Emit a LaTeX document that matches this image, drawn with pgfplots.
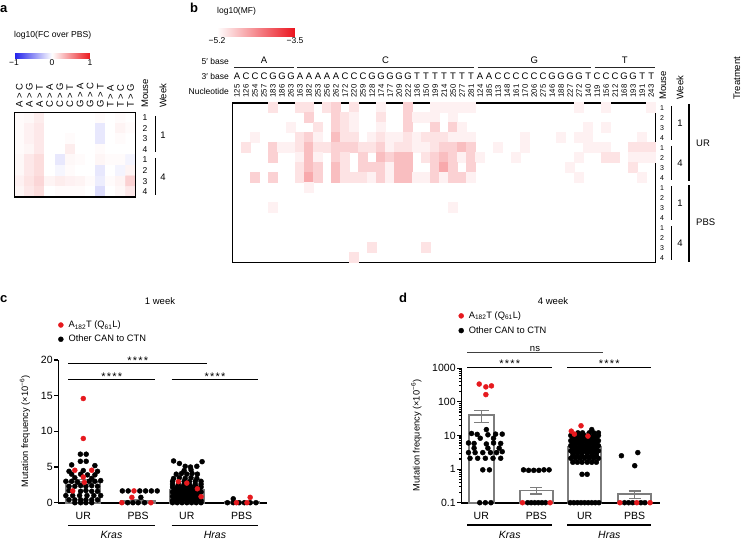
\documentclass[border=0pt]{standalone}
\usepackage{fontspec}
\setmainfont{Liberation Sans}
\usepackage{pgfplots}
\pgfplotsset{compat=1.18}
\usepgfplotslibrary{colormaps}
\usetikzlibrary{calc}
\definecolor{myred}{RGB}{230,25,30}
\definecolor{bargray}{RGB}{125,125,125}
\newcommand\fs[1]{\fontsize{#1}{#1}\selectfont}
\pgfplotsset{/pgf/number format/assume math mode=true}
\pgfplotsset{
  dotplot/.style={only marks, mark=*, mark size=2.5pt, forget plot},
  barplot/.style={ybar, bar shift=0pt, draw=bargray, fill=white, line width=1.8pt, forget plot,
    error bars/y dir=both, error bars/y explicit,
    error bars/error bar style={line width=1.5pt, color=bargray},
    error bars/error mark options={rotate=90, mark size=6pt, line width=1.5pt, color=bargray}},
  legimg/.style={legend image code/.code={\path (-3pt,0pt) (7pt,0pt); \draw[##1] plot coordinates {(0pt,0pt)};}},
}
\begin{document}
\begin{tikzpicture}
\useasboundingbox (0pt,0pt) rectangle (746pt,-540pt);

%% ---------------- panel a heatmap ----------------
\begin{axis}[at={(14.3pt,-112.3pt)}, anchor=north west, scale only axis, width=121.4pt, height=84.7pt,
  xmin=-0.5, xmax=11.5, ymin=-0.5, ymax=7.5, y dir=reverse, ticks=none, axis on top,
  axis line style={line width=1.2pt},
  colormap={bwr}{rgb255=(30,30,235) rgb255=(255,255,255) rgb255=(235,25,30)},
  point meta min=-1, point meta max=1,
  colorbar horizontal,
  colorbar style={y dir=normal, at={($(parent axis.north west)+(-0.3pt,67.3pt)$)}, anchor=north west,
    scale only axis, width=76pt, height=5pt, axis line style={draw=none},
    xtick={-1,0,1}, xticklabels={−1,0,1}, xtick style={draw=none},
    xticklabel style={font=\fs{8.5}, inner sep=1pt}}]
\addplot[matrix plot*, mesh/cols=12, point meta=explicit] table[row sep=\\, meta=z] {
x y z\\
0 0 0.02\\1 0 0.03\\2 0 0.08\\3 0 0\\4 0 0\\5 0 0\\6 0 0\\7 0 0\\8 0 0.02\\9 0 0\\10 0 0.02\\11 0 0\\
0 1 0.02\\1 1 0.06\\2 1 0.10\\3 1 0\\4 1 0\\5 1 0\\6 1 0\\7 1 0\\8 1 -0.10\\9 1 0\\10 1 0.05\\11 1 0.02\\
0 2 0.02\\1 2 0.06\\2 2 0.10\\3 2 0\\4 2 0\\5 2 0.02\\6 2 0\\7 2 0\\8 2 -0.10\\9 2 0\\10 2 0.02\\11 2 0\\
0 3 0.02\\1 3 0.04\\2 3 0.10\\3 3 0\\4 3 0\\5 3 0.08\\6 3 0\\7 3 0\\8 3 0.02\\9 3 0\\10 3 0\\11 3 0\\
0 4 0.03\\1 4 0.10\\2 4 0.15\\3 4 0\\4 4 -0.10\\5 4 0.03\\6 4 0.02\\7 4 0\\8 4 0.04\\9 4 0.02\\10 4 0.02\\11 4 -0.05\\
0 5 0.03\\1 5 0.10\\2 5 0.15\\3 5 0\\4 5 -0.04\\5 5 0.02\\6 5 0\\7 5 0\\8 5 -0.10\\9 5 0\\10 5 -0.05\\11 5 0.05\\
0 6 0.06\\1 6 0.12\\2 6 0.18\\3 6 0.05\\4 6 0.08\\5 6 0.06\\6 6 0.05\\7 6 0.02\\8 6 -0.08\\9 6 0.02\\10 6 0.05\\11 6 0.20\\
0 7 0.04\\1 7 0.10\\2 7 0.15\\3 7 0\\4 7 0.02\\5 7 0.02\\6 7 0.02\\7 7 0\\8 7 -0.15\\9 7 0\\10 7 0.03\\11 7 0.10\\
};
\end{axis}

%% ---------------- panel b heatmap ----------------
\begin{axis}[at={(232.5pt,-103pt)}, anchor=north west, scale only axis, width=423.2pt, height=159.7pt,
  xmin=-0.5, xmax=46.5, ymin=-0.5, ymax=15.5, y dir=reverse, ticks=none, axis on top,
  axis line style={line width=1.2pt},
  colormap={wr}{rgb255=(255,255,255) rgb255=(235,20,30)},
  point meta min=-5.2, point meta max=-3.5,
  colorbar horizontal,
  colorbar style={y dir=normal, at={($(parent axis.north west)+(-15.5pt,83pt)$)}, anchor=north west,
    scale only axis, width=78pt, height=8pt, axis line style={draw=none},
    xtick={-5.2,-3.5}, xticklabels={−5.2,−3.5}, xtick style={draw=none},
    xticklabel style={font=\fs{8.5}, inner sep=1pt}}]
\addplot[scatter, only marks, mark=square*, mark size=5pt, point meta=explicit,
  scatter/use mapped color={draw=mapped color, fill=mapped color},
  mark options={xscale=0.9, line width=0pt}] table[row sep=\\, x=c, y=r, meta=v] {
c r v\\
4 0 -5.00\\7 0 -5.00\\8 0 -5.00\\10 0 -5.00\\11 0 -4.87\\13 0 -5.00\\16 0 -5.10\\19 0 -4.87\\22 0 -5.10\\23 0 -5.10\\24 0 -5.10\\25 0 -5.10\\26 0 -5.10\\38 0 -5.10\\41 0 -5.10\\46 0 -5.10\\
8 1 -4.87\\11 1 -4.87\\12 1 -5.00\\13 1 -5.10\\16 1 -5.00\\19 1 -4.87\\20 1 -5.10\\21 1 -5.10\\22 1 -5.10\\24 1 -5.10\\
6 2 -5.10\\9 2 -5.00\\11 2 -4.87\\12 2 -5.00\\13 2 -5.10\\16 2 -5.10\\19 2 -4.87\\22 2 -4.87\\24 2 -4.87\\25 2 -5.10\\39 2 -5.10\\41 2 -5.10\\
2 3 -5.10\\7 3 -5.00\\8 3 -4.87\\9 3 -5.10\\11 3 -4.73\\12 3 -5.00\\13 3 -5.00\\15 3 -5.10\\16 3 -5.00\\17 3 -5.10\\18 3 -5.10\\19 3 -5.00\\20 3 -5.10\\21 3 -5.00\\22 3 -5.00\\23 3 -5.00\\24 3 -5.10\\25 3 -5.10\\26 3 -5.10\\32 3 -5.10\\36 3 -5.10\\38 3 -5.10\\39 3 -5.10\\45 3 -5.10\\
1 4 -5.00\\4 4 -4.87\\5 4 -5.10\\6 4 -5.10\\7 4 -5.00\\8 4 -4.73\\9 4 -5.00\\10 4 -5.00\\11 4 -4.87\\12 4 -4.87\\13 4 -4.87\\14 4 -5.00\\15 4 -5.00\\16 4 -4.87\\17 4 -5.10\\18 4 -5.00\\19 4 -5.00\\20 4 -5.10\\21 4 -5.10\\22 4 -5.00\\23 4 -4.87\\24 4 -4.87\\25 4 -4.73\\26 4 -4.87\\29 4 -5.10\\32 4 -5.10\\39 4 -5.10\\40 4 -5.10\\41 4 -5.10\\44 4 -5.00\\45 4 -5.00\\46 4 -5.00\\
4 5 -4.87\\7 5 -5.10\\8 5 -4.73\\9 5 -5.10\\11 5 -4.87\\12 5 -5.00\\14 5 -4.87\\16 5 -4.73\\17 5 -4.87\\18 5 -4.73\\19 5 -4.73\\21 5 -5.00\\22 5 -4.87\\23 5 -4.73\\24 5 -4.87\\25 5 -5.10\\26 5 -4.87\\27 5 -5.10\\31 5 -5.10\\38 5 -5.10\\41 5 -5.00\\42 5 -5.00\\44 5 -5.10\\45 5 -5.10\\46 5 -5.10\\
7 6 -5.00\\8 6 -4.73\\9 6 -4.87\\11 6 -4.73\\12 6 -5.00\\14 6 -4.87\\15 6 -4.87\\16 6 -4.87\\17 6 -5.10\\18 6 -4.73\\19 6 -4.73\\22 6 -4.87\\23 6 -4.58\\24 6 -4.87\\26 6 -4.87\\37 6 -5.10\\44 6 -5.00\\
2 7 -4.87\\4 7 -4.87\\7 7 -5.00\\8 7 -4.58\\9 7 -4.87\\11 7 -4.73\\12 7 -5.00\\13 7 -5.00\\14 7 -5.00\\15 7 -5.10\\16 7 -4.87\\17 7 -5.10\\18 7 -4.73\\19 7 -4.73\\20 7 -5.10\\21 7 -5.10\\22 7 -4.87\\23 7 -5.10\\24 7 -4.87\\25 7 -4.87\\26 7 -5.10\\38 7 -5.10\\45 7 -5.10\\
8 8 -5.10\\
4 10 -5.10\\24 10 -5.10\\
15 14 -5.00\\21 14 -5.00\\
13 15 -5.00\\
};
\end{axis}

%% ---------------- panel c ----------------
\begin{axis}[at={(58.3pt,-360pt)}, anchor=north west, scale only axis, width=208.4pt, height=142.7pt,
  xmin=-0.473, xmax=3.473, ymin=0, ymax=20, clip=false,
  axis x line*=bottom, axis y line*=left,
  x axis line style={line width=2.2pt}, y axis line style={line width=1.3pt},
  ytick={0,5,10,15,20}, tick align=outside, major tick length=4pt,
  ytick style={line width=1.2pt, black},
  xtick={0,1.04,1.96,3}, xticklabels={UR,PBS,UR,PBS}, xtick style={draw=none},
  xticklabel style={anchor=base, yshift=-13pt},
  tick label style={font=\fs{10.5}}, yticklabel style={inner sep=1.5pt},
  ylabel={Mutation frequency (×10\textsuperscript{−6})},
  every axis y label/.style={at={(axis description cs:-0.16,0.5)}, rotate=90, anchor=center, font=\fs{9.3}},
  legimg, legend cell align=left,
  legend style={at={(-0.004,1.279)}, anchor=north west, draw=none, fill=none, inner sep=0pt,
    row sep=5pt, font=\fs{9.3}, nodes={inner sep=0.5pt}}]
\addplot[barplot, bar width=34pt] coordinates {(0,2.9) +- (0,0.35) (1.04,0.25) +- (0,0.1) (1.96,1.75) +- (0,0.15) (3,0.05) +- (0,0.03)};
% Kras UR
\addplot[dotplot, black] table[row sep=\\, x expr=\thisrow{dx}, y=v] {dx v\\
-0.055 6.8\\0.055 6.8\\-0.055 5.8\\0.055 5.8\\-0.22 5.3\\0.22 5.2\\-0.27 4.4\\0 4.5\\0.27 4.4\\-0.22 4.0\\-0.05 4.0\\0.08 3.9\\0.22 3.9\\-0.16 3.5\\0.16 3.4\\
-0.33 3.0\\-0.22 3.0\\-0.11 2.9\\0.11 3.0\\0.22 3.0\\0.33 3.1\\-0.27 2.3\\-0.16 2.3\\-0.05 2.4\\0.05 2.3\\0.16 2.4\\0.27 2.3\\
-0.27 1.7\\-0.05 1.6\\0.05 1.7\\0.16 1.6\\0.27 1.6\\-0.33 1.0\\-0.2 1.0\\-0.07 1.0\\0.07 1.0\\0.2 1.0\\0.33 1.0\\
-0.27 0.4\\-0.16 0.4\\-0.05 0.4\\0.05 0.4\\0.16 0.4\\0.27 0.4\\-0.16 0\\-0.05 0\\0.05 0\\0.16 0\\};
% Kras PBS
\addplot[dotplot, black] table[row sep=\\, x expr=\thisrow{dx}+1.04, y=v] {dx v\\
-0.3 1.65\\-0.19 1.65\\0.03 1.65\\0.14 1.65\\0.25 1.65\\0.36 1.65\\0.05 0.75\\-0.2 0\\-0.1 0\\0 0\\0.12 0\\};
% Hras UR
\addplot[dotplot, black] table[row sep=\\, x expr=\thisrow{dx}+1.96, y=v] {dx v\\
-0.25 5.85\\-0.14 5.5\\-0.03 5.1\\0.07 5.0\\0.19 5.1\\0.29 5.75\\-0.05 4.5\\0.08 4.6\\
-0.2 4.0\\-0.1 4.1\\0 4.0\\0.1 4.1\\0.2 4.0\\-0.25 3.4\\-0.14 3.5\\-0.03 3.4\\0.08 3.5\\0.19 3.4\\
-0.27 3.0\\-0.05 3.0\\0.05 2.95\\0.16 3.0\\0.27 3.0\\-0.27 2.6\\-0.16 2.6\\-0.05 2.6\\0.05 2.55\\0.16 2.6\\0.27 2.6\\
-0.27 2.2\\-0.18 2.2\\-0.09 2.2\\0 2.2\\0.09 2.2\\0.18 2.2\\0.27 2.2\\
-0.23 1.85\\-0.14 1.85\\-0.05 1.85\\0.05 1.85\\0.14 1.85\\0.23 1.85\\
-0.27 1.5\\-0.18 1.5\\-0.09 1.5\\0 1.5\\0.09 1.5\\0.18 1.5\\0.27 1.5\\
-0.23 1.2\\-0.14 1.2\\-0.05 1.2\\0.05 1.2\\0.14 1.2\\0.23 1.2\\
-0.27 0.9\\-0.18 0.9\\-0.09 0.9\\0 0.9\\0.09 0.9\\0.18 0.9\\
-0.23 0.6\\-0.14 0.6\\-0.05 0.6\\0.05 0.6\\0.14 0.6\\0.23 0.6\\
-0.27 0.3\\-0.18 0.3\\-0.09 0.3\\0 0.3\\0.09 0.3\\0.18 0.3\\0.27 0.3\\
-0.27 0\\-0.18 0\\-0.09 0\\0 0\\0.09 0\\0.18 0\\0.27 0\\};
% Hras PBS
\addplot[dotplot, black] table[row sep=\\, x expr=\thisrow{dx}+3, y=v] {dx v\\
-0.27 0\\-0.16 0\\-0.05 0\\0.05 0\\0.16 0\\0.27 0\\-0.16 0.55\\};
% A182T points
\addplot[dotplot, myred] table[row sep=\\, x expr=\thisrow{dx}, y=v] {dx v\\
0 14.6\\0 9.0\\-0.16 4.55\\0.16 4.55\\0 3.6\\0.02 2.85\\-0.2 1.65\\};
\addplot[dotplot, myred] table[row sep=\\, x expr=\thisrow{dx}+1.04, y=v] {dx v\\
-0.08 1.65\\-0.12 0.75\\-0.31 0\\0.24 0\\};
\addplot[dotplot, myred] table[row sep=\\, x expr=\thisrow{dx}+1.96, y=v] {dx v\\
-0.16 2.95\\0 2.75\\0.2 1.95\\0.27 0.85\\};
\addplot[dotplot, myred] table[row sep=\\, x expr=\thisrow{dx}+3, y=v] {dx v\\
0.16 0.75\\-0.1 0\\0.1 0\\};
\addlegendimage{only marks, mark=*, mark size=2.5pt, color=myred}
\addlegendentry{A\textsubscript{182}T (Q\textsubscript{61}L)}
\addlegendimage{only marks, mark=*, mark size=2.5pt, color=black}
\addlegendentry{Other CAN to CTN}
\end{axis}

%% ---------------- panel d ----------------
\begin{axis}[at={(461.3pt,-368.3pt)}, anchor=north west, scale only axis, width=199pt, height=134.4pt,
  xmin=-0.39, xmax=3.5, ymode=log, ymin=0.1, ymax=1000, log origin=infty, clip=false,
  axis x line*=bottom, axis y line*=left,
  x axis line style={line width=2.2pt}, y axis line style={line width=1.3pt},
  ytick={0.1,1,10,100,1000}, yticklabels={0.1,1,10,100,1000},
  minor ytick={0.2,0.3,0.4,0.5,0.6,0.7,0.8,0.9,2,3,4,5,6,7,8,9,20,30,40,50,60,70,80,90,200,300,400,500,600,700,800,900},
  tick align=outside, major tick length=4pt, minor tick length=2pt,
  ytick style={line width=1.1pt, black},
  xtick={0,1.076,2.02,3}, xticklabels={UR,PBS,UR,PBS}, xtick style={draw=none},
  xticklabel style={anchor=base, yshift=-13pt},
  tick label style={font=\fs{10.5}}, yticklabel style={inner sep=1.5pt},
  ylabel={Mutation frequency (×10\textsuperscript{−6})},
  every axis y label/.style={at={(axis description cs:-0.226,0.5)}, rotate=90, anchor=center, font=\fs{9.3}},
  legimg, legend cell align=left,
  legend style={at={(-0.0176,1.426)}, anchor=north west, draw=none, fill=none, inner sep=0pt,
    row sep=5.5pt, font=\fs{9.3}, nodes={inner sep=0.5pt}}]
\addplot[barplot, bar width=25pt, error bars/error mark options={rotate=90, mark size=7.5pt, line width=1.5pt, color=bargray}] coordinates {(0,40) +- (0,16)};
\addplot[barplot, bar width=33pt] coordinates {(1.076,0.23) +- (0,0.05) (2.02,4.6) +- (0,0.4) (3,0.18) +- (0,0.045)};
% Kras UR
\addplot[dotplot, black] table[row sep=\\, x expr=\thisrow{dx}+0.08, y=v] {dx v\\
0.02 15\\-0.27 11.5\\-0.16 10.8\\0.05 10.5\\0.2 11\\0.33 11\\-0.1 8.3\\0.16 8.3\\-0.33 6\\-0.22 5.8\\0.02 5.6\\0.16 6\\0.3 5.8\\
-0.22 4.2\\0.05 4.2\\0.27 4.2\\-0.33 3.1\\-0.2 3.1\\-0.05 3.1\\0.1 3.1\\0.22 3.1\\0.33 3.3\\
-0.3 2.1\\-0.15 2.1\\0 2.1\\0.15 2.1\\0.3 2.1\\-0.05 0.95\\0.08 0.95\\-0.11 0.1\\0 0.1\\0.11 0.1\\};
% Kras PBS
\addplot[dotplot, black] table[row sep=\\, x expr=\thisrow{dx}+1.076, y=v] {dx v\\
-0.25 0.95\\-0.15 0.92\\-0.05 0.92\\0.05 0.92\\0.15 0.95\\0.25 0.95\\-0.17 0.1\\-0.1 0.1\\-0.03 0.1\\0.04 0.1\\0.11 0.1\\0.18 0.1\\};
% Hras UR
\addplot[dotplot, black] table[row sep=\\, x expr=\thisrow{dx}+2.02, y=v] {dx v\\
0.14 15\\-0.13 12\\-0.04 12\\0.09 12\\0.18 12\\0.27 12\\
-0.27 10\\-0.18 10\\-0.09 10\\0 10\\0.09 10\\0.18 10\\0.27 10\\
-0.23 8.5\\-0.14 8.5\\-0.05 8.5\\0.05 8.5\\0.14 8.5\\0.23 8.5\\
-0.27 7\\-0.18 7\\-0.09 7\\0 7\\0.09 7\\0.18 7\\0.27 7\\
-0.23 6\\-0.14 6\\-0.05 6\\0.05 6\\0.14 6\\0.23 6\\
-0.27 5\\-0.18 5\\-0.09 5\\0 5\\0.09 5\\0.18 5\\0.27 5\\
-0.23 4.2\\-0.14 4.2\\-0.05 4.2\\0.05 4.2\\0.14 4.2\\0.23 4.2\\
-0.27 3.5\\-0.18 3.5\\-0.09 3.5\\0 3.5\\0.09 3.5\\0.18 3.5\\0.27 3.5\\
-0.23 3\\-0.14 3\\-0.05 3\\0.05 3\\0.14 3\\0.23 3\\
-0.23 2.5\\-0.14 2.5\\-0.05 2.5\\0.05 2.5\\0.14 2.5\\0.23 2.5\\
-0.27 2.1\\-0.18 2.1\\-0.09 2.1\\0 2.1\\0.09 2.1\\0.18 2.1\\0.27 2.1\\
-0.23 1.6\\-0.14 1.6\\-0.05 1.6\\0.05 1.6\\0.14 1.6\\0.23 1.6\\
-0.05 0.7\\0.05 0.7\\
-0.28 0.1\\-0.21 0.1\\-0.14 0.1\\-0.07 0.1\\0 0.1\\0.07 0.1\\0.14 0.1\\0.21 0.1\\0.28 0.1\\};
% Hras PBS
\addplot[dotplot, black] table[row sep=\\, x expr=\thisrow{dx}+3, y=v] {dx v\\
-0.26 2.5\\0.06 3.1\\0 1.26\\-0.2 0.1\\-0.12 0.1\\-0.04 0.1\\0.12 0.1\\0.2 0.1\\};
% A182T points
\addplot[dotplot, myred] table[row sep=\\, x expr=\thisrow{dx}+0.08, y=v] {dx v\\
-0.12 340\\0.01 280\\0.12 300\\0.01 165\\};
\addplot[dotplot, myred] table[row sep=\\, x expr=\thisrow{dx}+1.076, y=v] {dx v\\
-0.27 0.1\\0.27 0.1\\};
\addplot[dotplot, myred] table[row sep=\\, x expr=\thisrow{dx}+2.02, y=v] {dx v\\
-0.26 13.5\\-0.2 11\\-0.07 19.5\\0.065 9.6\\};
\addplot[dotplot, myred] table[row sep=\\, x expr=\thisrow{dx}+3, y=v] {dx v\\
-0.29 0.1\\0.04 0.1\\0.3 0.1\\};
\addlegendimage{only marks, mark=*, mark size=2.5pt, color=myred}
\addlegendentry{A\textsubscript{182}T (Q\textsubscript{61}L)}
\addlegendimage{only marks, mark=*, mark size=2.5pt, color=black}
\addlegendentry{Other CAN to CTN}
\end{axis}

%% ---------------- annotations ----------------
\begin{scope}[x=1pt,y=-1pt]
% panel letters
\node[font=\fs{13}\bfseries, anchor=base west, inner sep=0] at (0,13) {a};
\node[font=\fs{13}\bfseries, anchor=base west, inner sep=0] at (190,13) {b};
\node[font=\fs{13}\bfseries, anchor=base west, inner sep=0] at (0,302) {c};
\node[font=\fs{13}\bfseries, anchor=base west, inner sep=0] at (399,302) {d};

% panel a
\node[anchor=west, inner sep=0, font=\fs{8.6}] at (14,35) {log10(FC over PBS)};
\foreach \l [count=\i from 0] in {A > C,A > G,A > T,C > A,C > G,C > T,G > A,G > C,G > T,T > A,T > C,T > G}
  \node[rotate=90, anchor=west, inner sep=0, font=\fs{9.5}] at ({14.3+10.117*(\i+0.5)},108) {\l};
\node[rotate=90, anchor=west, inner sep=0, font=\fs{9.5}] at (145,108) {Mouse};
\node[rotate=90, anchor=west, inner sep=0, font=\fs{9.5}] at (163,108) {Week};
\foreach \m [count=\i from 0] in {1,2,3,4,1,2,3,4}
  \node[font=\fs{8.5}, inner sep=0] at (145,{112.3+10.59*(\i+0.5)}) {\m};
\draw[line width=1.2pt] (155.5,116) -- (155.5,152) (155.5,158) -- (155.5,195);
\node[font=\fs{9.5}, inner sep=0] at (163,135) {1};
\node[font=\fs{9.5}, inner sep=0] at (163,177) {4};

% panel b header
\node[anchor=west, inner sep=0, font=\fs{8.5}] at (217,11) {log10(MF)};
\node[anchor=east, inner sep=0, font=\fs{8.5}] at (229,61) {5′ base};
\node[anchor=east, inner sep=0, font=\fs{8.5}] at (229,76) {3′ base};
\node[anchor=east, inner sep=0, font=\fs{8.5}] at (229,91) {Nucleotide};
\node[font=\fs{9.5}, inner sep=0] at (264,60) {A};
\node[font=\fs{9.5}, inner sep=0] at (385.6,60) {C};
\node[font=\fs{9.5}, inner sep=0] at (534.4,60) {G};
\node[font=\fs{9.5}, inner sep=0] at (624.7,60) {T};
\draw[line width=1.3pt, black!85] (234,67.5) -- (294,67.5) (297,67.5) -- (474,67.5) (477.6,67.5) -- (591.2,67.5) (594.7,67.5) -- (654.7,67.5);
\foreach \l [count=\i from 0] in {A,C,C,C,G,G,G,A,A,A,A,A,C,C,C,G,G,G,G,G,T,T,T,T,T,T,T,A,A,C,C,C,C,C,C,G,G,G,G,T,C,C,C,G,G,T,T}
  \node[font=\fs{9.5}, inner sep=0] at ({232.5+9.004*(\i+0.5)},76) {\l};
\foreach \n [count=\i from 0] in {125,126,254,257,183,186,263,163,182,253,256,262,172,220,259,128,174,177,209,222,136,150,199,214,250,277,281,124,185,113,148,161,170,206,275,146,188,227,272,140,119,156,212,168,193,191,243}
  \node[rotate=90, font=\fs{7.8}, inner sep=0] at ({232.5+9.004*(\i+0.5)},91) {\n};
% panel b right side
\foreach \m [count=\i from 0] in {1,2,3,4,1,2,3,4,1,2,3,4,1,2,3,4}
  \node[font=\fs{7}, inner sep=0] at (662,{103+9.98*(\i+0.5)}) {\m};
\node[rotate=90, anchor=west, inner sep=0, font=\fs{9.5}] at (663,100) {Mouse};
\node[rotate=90, anchor=west, inner sep=0, font=\fs{9.5}] at (680,100) {Week};
\node[rotate=90, anchor=west, inner sep=0, font=\fs{9.5}] at (737,100) {Treatment};
\foreach \k in {0,1,2,3} \draw[line width=1.2pt] (671.7,{103+40*\k+3}) -- (671.7,{103+40*\k+37});
\foreach \w [count=\k from 0] in {1,4,1,4} \node[font=\fs{9.5}, inner sep=0] at (680,{123+40*\k}) {\w};
\draw[line width=1.2pt] (689,104) -- (689,181) (689,185) -- (689,262);
\node[anchor=west, font=\fs{9.5}, inner sep=0] at (696,143) {UR};
\node[anchor=west, font=\fs{9.5}, inner sep=0] at (696,222) {PBS};

% panel c
\node[font=\fs{9.5}, inner sep=0] at (160,301.5) {1 week};
\draw[line width=1.1pt] (68.3,363.3) -- (207.3,363.3) (68.3,379.3) -- (155,379.3) (171.7,379.3) -- (258.3,379.3);
\node[font=\fs{11}, anchor=base, inner sep=0] at (137.8,364.8) {*\kern1.2pt*\kern1.2pt*\kern1.2pt*};
\node[font=\fs{11}, anchor=base, inner sep=0] at (111.7,380.8) {*\kern1.2pt*\kern1.2pt*\kern1.2pt*};
\node[font=\fs{11}, anchor=base, inner sep=0] at (215,380.8) {*\kern1.2pt*\kern1.2pt*\kern1.2pt*};
\draw[line width=1.1pt] (68,525.5) -- (155,525.5) (171.7,525.5) -- (258.3,525.5);
\node[font=\fs{10.5}\itshape, anchor=base, inner sep=0] at (111.5,538.3) {Kras};
\node[font=\fs{10.5}\itshape, anchor=base, inner sep=0] at (215,538.3) {Hras};

% panel d
\node[font=\fs{9.5}, inner sep=0] at (553,301.5) {4 week};
\draw[line width=1.1pt, black!75] (467.3,352.7) -- (603,352.7);
\node[font=\fs{9.5}, anchor=base, inner sep=0] at (535,351.5) {ns};
\draw[line width=1.1pt] (467.3,367.3) -- (552,367.3) (567.3,367.3) -- (651.3,367.3);
\node[font=\fs{11}, anchor=base, inner sep=0] at (509.7,367.5) {*\kern1.2pt*\kern1.2pt*\kern1.2pt*};
\node[font=\fs{11}, anchor=base, inner sep=0] at (609.3,367.5) {*\kern1.2pt*\kern1.2pt*\kern1.2pt*};
\draw[line width=1.1pt] (467.3,525) -- (552,525) (567.3,525) -- (651.3,525);
\node[font=\fs{10.5}\itshape, anchor=base, inner sep=0] at (509.7,538.3) {Kras};
\node[font=\fs{10.5}\itshape, anchor=base, inner sep=0] at (609.3,538.3) {Hras};
\end{scope}
\end{tikzpicture}
\end{document}
